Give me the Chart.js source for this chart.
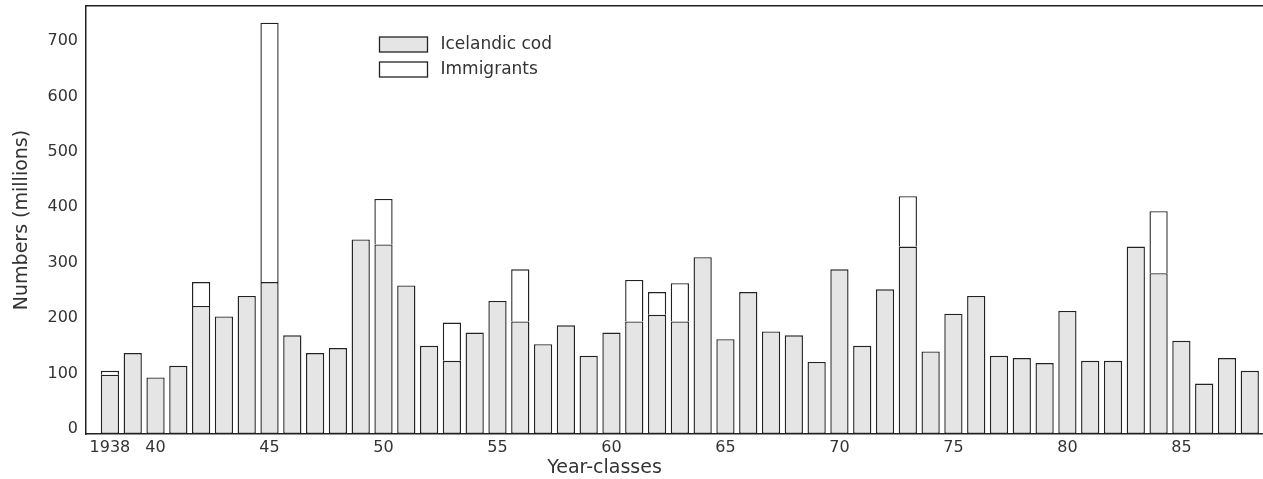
<!DOCTYPE html>
<html>
<head>
<meta charset="utf-8">
<script src="https://cdn.jsdelivr.net/npm/chart.js@4.4.0/dist/chart.umd.min.js"></script>
<style>
  html, body { margin: 0; padding: 0; background: #fff; }
  #wrap { width: 1263px; height: 479px; }
</style>
</head>
<body>
<div id="wrap"><canvas id="graficoCod"></canvas></div>
<script>
// year-classes 1938 - 1988
const years = [];
for (let y = 1938; y <= 1988; y++) years.push(y);

// Icelandic cod (millions)
const codValues = [
  107, 146, 102, 123, 231, 212, 249, 274, 178, 146,
  155, 351, 342, 268, 159, 132, 183, 240, 203, 162,
  196, 141, 183, 203, 215, 203, 319, 171, 256, 185,
  178, 130, 297, 159, 261, 338, 149, 217, 249, 141,
  137, 128, 222, 132, 132, 338, 290, 168, 91, 137,
  114
];

// immigrants from Greenland (millions), stacked on top
const immigrantValues = [
  7, null, null, null, 43, null, null, 468, null, null,
  null, null, 82, null, null, 69, null, null, 94, null,
  null, null, null, 75, 41, 69, null, null, null, null,
  null, null, null, null, null, 91, null, null, null, null,
  null, null, null, null, null, null, 112, null, null, null,
  null
];

const xTickValues = [1938, 1940, 1945, 1950, 1955, 1960, 1965, 1970, 1975, 1980, 1985];
const yTickValues = [0, 100, 200, 300, 400, 500, 600, 700];

const fontFamily = "'DejaVu Sans', 'Liberation Sans', sans-serif";
const textColor = '#333';
const lineColor = '#222';

// legend drawn inside the plot area, plus the x title
const insideLegend = {
  id: 'insideLegend',
  afterDraw(chart) {
    const ctx = chart.ctx;
    const area = chart.chartArea;
    const x0 = area.left + 293.5;
    const y0 = area.top + 31;
    ctx.save();
    chart.data.datasets.forEach((ds, i) => {
      const y = y0 + i * 25;
      ctx.fillStyle = ds.backgroundColor;
      ctx.fillRect(x0, y, 48, 15);
      ctx.strokeStyle = lineColor;
      ctx.lineWidth = 1.3;
      ctx.strokeRect(x0, y, 48, 15);
      ctx.fillStyle = textColor;
      ctx.font = '17px ' + fontFamily;
      ctx.textBaseline = 'middle';
      ctx.textAlign = 'left';
      ctx.fillText(ds.label, x0 + 61, y + 8);
    });
    ctx.font = '19px ' + fontFamily;
    ctx.textAlign = 'center';
    ctx.textBaseline = 'middle';
    ctx.fillText('Year-classes', (area.left + area.right) / 2 - 70, 468);
    ctx.restore();
  }
};

const ctx = document.getElementById('graficoCod').getContext('2d');
new Chart(ctx, {
  type: 'bar',
  data: {
    datasets: [
      {
        label: 'Icelandic cod',
        data: years.map((y, i) => ({ x: y, y: codValues[i] })),
        backgroundColor: '#e5e5e5',
        borderColor: lineColor,
        borderWidth: 1.4,
        borderSkipped: false,
        categoryPercentage: 1,
        barPercentage: 0.8
      },
      {
        label: 'Immigrants',
        data: years.map((y, i) => ({ x: y, y: immigrantValues[i] })),
        backgroundColor: '#ffffff',
        borderColor: lineColor,
        borderWidth: 1.4,
        borderSkipped: 'bottom',
        categoryPercentage: 1,
        barPercentage: 0.8
      }
    ]
  },
  options: {
    responsive: true,
    maintainAspectRatio: false,
    animation: false,
    layout: { padding: 0 },
    plugins: {
      legend: { display: false },
      tooltip: { enabled: false }
    },
    scales: {
      x: {
        type: 'linear',
        stacked: true,
        offset: false,
        min: 1936.95,
        max: 1988.58,
        afterBuildTicks: s => { s.ticks = xTickValues.map(v => ({ value: v })); },
        afterFit: s => { s.height = 45; s.paddingLeft = 0; s.paddingRight = 0; },
        ticks: {
          padding: 4,
          color: textColor,
          font: { family: fontFamily, size: 16 },
          maxRotation: 0,
          autoSkip: false,
          callback: v => v === 1938 ? '1938' : String(v).slice(2)
        },
        grid: { display: false, drawTicks: false },
        border: { display: true, color: lineColor, width: 1.5 }
      },
      xTop: {
        type: 'linear',
        position: 'top',
        min: 1936.95,
        max: 1988.58,
        afterFit: s => { s.height = 6; s.paddingLeft = 0; s.paddingRight = 0; },
        ticks: { display: false },
        grid: { display: false, drawTicks: false },
        border: { display: true, color: lineColor, width: 1.5 }
      },
      y: {
        stacked: true,
        min: 0,
        max: 772,
        afterBuildTicks: s => { s.ticks = yTickValues.map(v => ({ value: v })); },
        afterFit: s => { s.width = 86; s.paddingTop = 0; s.paddingBottom = 0; },
        ticks: {
          padding: 8,
          labelOffset: -5,
          color: textColor,
          font: { family: fontFamily, size: 16 }
        },
        grid: { display: false, drawTicks: false },
        border: { display: true, color: lineColor, width: 1.5 },
        title: {
          display: true,
          text: 'Numbers (millions)',
          color: textColor,
          font: { family: fontFamily, size: 19 },
          padding: { top: 11, bottom: 0 }
        }
      }
    }
  },
  plugins: [insideLegend]
});
</script>
</body>
</html>
